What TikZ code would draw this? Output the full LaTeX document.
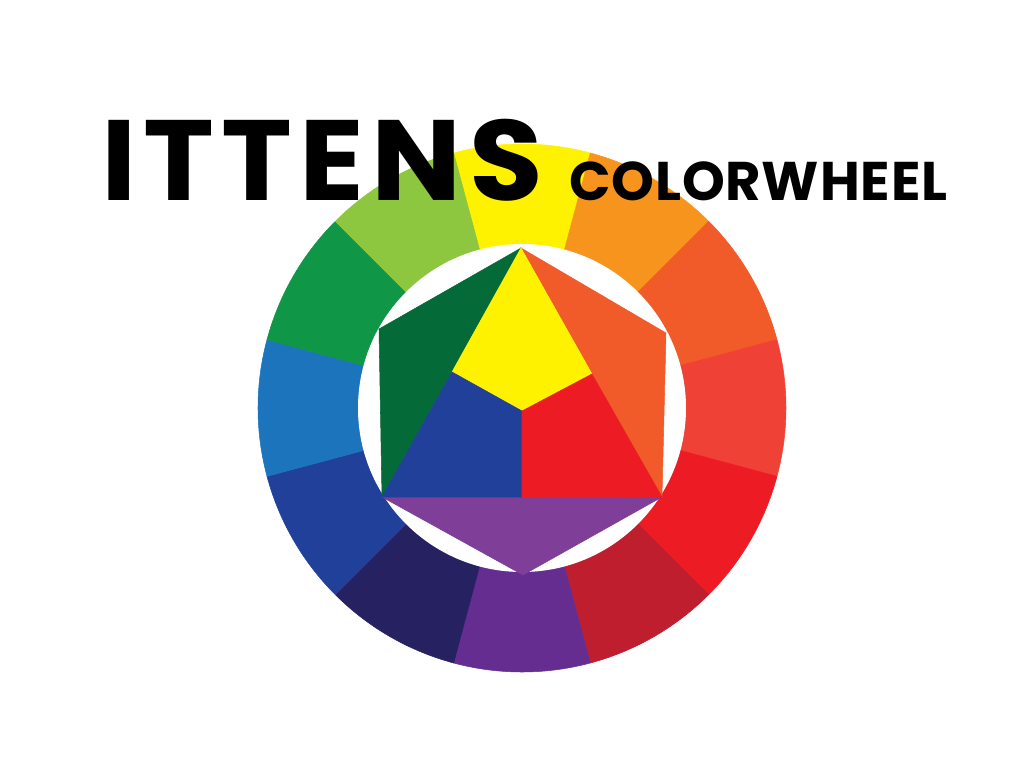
\documentclass[tikz,border=0pt]{standalone}
\usepackage{fontspec}
\newfontfamily\bigfont{Poppins}[LetterSpace=6]
\newfontfamily\smallfont{Poppins}[LetterSpace=1.5]
\usepackage{tikz}

\definecolor{cY}{HTML}{FFF200}
\definecolor{cYO}{HTML}{F7941D}
\definecolor{cO}{HTML}{F15A29}
\definecolor{cRO}{HTML}{EF4136}
\definecolor{cR}{HTML}{ED1C24}
\definecolor{cRV}{HTML}{BE1E2D}
\definecolor{cV}{HTML}{662D91}
\definecolor{cBV}{HTML}{262262}
\definecolor{cB}{HTML}{21409A}
\definecolor{cBG}{HTML}{1C75BC}
\definecolor{cG}{HTML}{0F9647}
\definecolor{cYG}{HTML}{8DC63F}
\definecolor{cDG}{HTML}{046A38}
\definecolor{cP}{HTML}{7F3F98}

\tikzset{
	title/.style={inner sep=0pt,anchor=base west},
	patch/.style={fill=#1,draw=#1,line width=0.3pt}
}

\begin{document}
\begin{tikzpicture}[x=0.02cm,y=0.02cm]
	\useasboundingbox (-522,-360) rectangle (502,408);

	\foreach \a/\c in {90/cY,60/cYO,30/cO,0/cRO,-30/cR,-60/cRV,-90/cV,-120/cBV,-150/cB,180/cBG,150/cG,120/cYG}
		\fill[patch=\c] (0,0) -- (\a-15:264) arc[start angle=\a-15,end angle=\a+15,radius=264] -- cycle;
	\fill[white] (0,0) circle[radius=164];

	\coordinate (top) at (-1,160);
	\coordinate (tl) at (-143,79);
	\coordinate (bl) at (-140,-89);
	\coordinate (bot) at (1,-167);
	\coordinate (br) at (140,-89);
	\coordinate (tr) at (144,75);
	\coordinate (ml) at (-70,36);
	\coordinate (mr) at (70,34);
	\coordinate (mb) at (0,-89);
	\coordinate (c) at (0,-3);

	\fill[patch=cDG] (top) -- (tl) -- (bl) -- cycle;
	\fill[patch=cO] (top) -- (tr) -- (br) -- cycle;
	\fill[patch=cP] (bl) -- (br) -- (bot) -- cycle;
	\fill[patch=cY] (top) -- (mr) -- (c) -- (ml) -- cycle;
	\fill[patch=cB] (bl) -- (ml) -- (c) -- (mb) -- cycle;
	\fill[patch=cR] (br) -- (mr) -- (c) -- (mb) -- cycle;

	\node[title,font=\bigfont\bfseries\fontsize{65}{65}\selectfont] (ittens) at (-421,208) {\scalebox{1.05}[1]{ITTENS}};
	\node[title,font=\smallfont\bfseries\fontsize{31}{31}\selectfont] (wheel) at (47,208) {COLORWHEEL};
\end{tikzpicture}
\end{document}
